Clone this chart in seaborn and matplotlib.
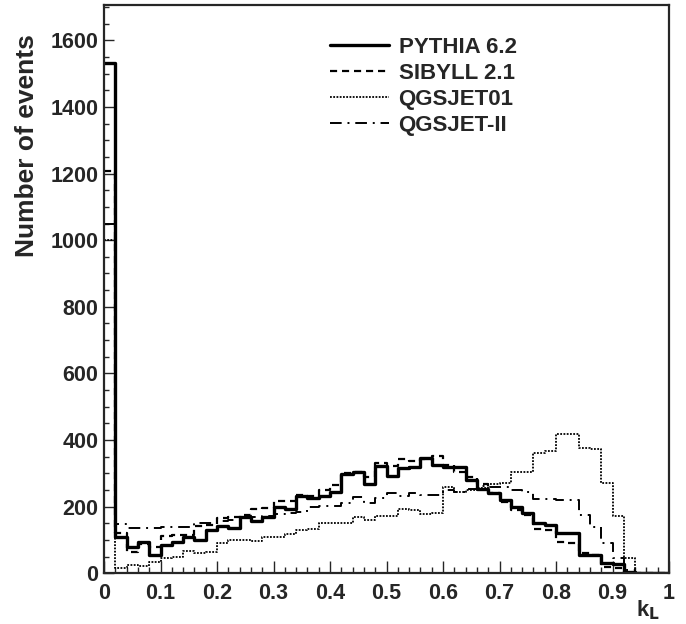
import numpy as np
import pandas as pd
import matplotlib
matplotlib.use("Agg")
import matplotlib.pyplot as plt
from matplotlib.ticker import MultipleLocator, FixedFormatter, FixedLocator
import seaborn as sns

# Histogramas de k_L (50 bins de 0.02 entre 0 e 1)

bordas = np.linspace(0, 1, 51)

pythia = [1532, 110, 80, 95, 55, 85, 95, 108, 100, 130,
          142, 135, 170, 158, 170, 198, 192, 232, 225, 233,
          243, 298, 303, 268, 323, 293, 315, 320, 345, 325,
          320, 318, 280, 252, 242, 220, 200, 181, 150, 144,
          120, 120, 55, 55, 30, 27, 3, 0, 0, 0]

sibyll = [1208, 120, 65, 88, 80, 112, 115, 115, 142, 145,
          165, 170, 175, 192, 195, 218, 218, 235, 232, 250,
          265, 300, 305, 290, 330, 322, 342, 338, 342, 352,
          325, 305, 288, 268, 240, 215, 190, 175, 132, 130,
          95, 92, 60, 55, 20, 15, 0, 0, 0, 0]

qgsjet01 = [1000, 15, 25, 22, 35, 45, 50, 68, 62, 65,
            90, 100, 100, 97, 110, 110, 118, 130, 132, 151,
            150, 150, 170, 161, 171, 171, 194, 190, 177, 180,
            260, 245, 250, 255, 268, 270, 305, 305, 362, 368,
            418, 418, 375, 372, 270, 172, 45, 0, 0, 0]

qgsjet2 = [1050, 147, 135, 135, 137, 138, 140, 140, 150, 150,
           158, 160, 165, 170, 172, 178, 180, 185, 200, 202,
           202, 212, 230, 210, 227, 242, 232, 240, 235, 235,
           250, 245, 252, 262, 260, 260, 250, 245, 222, 222,
           220, 220, 175, 140, 90, 45, 10, 0, 0, 0]

nomes = ['PYTHIA 6.2', 'SIBYLL 2.1', 'QGSJET01', 'QGSJET-II']
xticks_lab = ['0', '0.1', '0.2', '0.3', '0.4', '0.5', '0.6', '0.7', '0.8', '0.9', '1']
yticks_lab = ['0', '200', '400', '600', '800', '1000', '1200', '1400', '1600']

sns.set_style('ticks')
plt.rcParams['font.family'] = ['Liberation Sans', 'DejaVu Sans']

fig = plt.figure(figsize=(6.86, 6.24), dpi=100)
ax = fig.add_axes([104 / 686, 1 - 573.3 / 624, 565 / 686, 568.3 / 624])

centros = (bordas[:-1] + bordas[1:]) / 2
estilos = [
    dict(linestyle='-', linewidth=2.4),
    dict(linestyle=(0, (3.2, 2.2)), linewidth=1.6),
    dict(linestyle=(0, (1, 0.8)), linewidth=1.3),
    dict(linestyle=(0, (6, 3, 1, 3)), linewidth=1.4),
]
for serie, nome, est in zip([pythia, sibyll, qgsjet01, qgsjet2], nomes, estilos):
    df = pd.DataFrame({'kL': centros, 'n': serie})
    sns.histplot(data=df, x='kL', weights='n', binwidth=0.02, binrange=(0, 1),
                 element='step', fill=False, color='black', ax=ax, label=nome, **est)

ax.set_xlim(0, 1)
ax.set_ylim(0, 1706)

ax.xaxis.set_major_locator(FixedLocator(np.linspace(0, 1, 11)))
ax.xaxis.set_major_formatter(FixedFormatter(xticks_lab))
ax.xaxis.set_minor_locator(MultipleLocator(0.02))
ax.yaxis.set_major_locator(FixedLocator(np.arange(0, 1601, 200)))
ax.yaxis.set_major_formatter(FixedFormatter(yticks_lab))
ax.yaxis.set_minor_locator(MultipleLocator(50))

ax.tick_params(which='both', direction='in', top=False, right=False, width=1.0)
ax.tick_params(axis='x', which='major', length=9, labelsize=15.5, pad=7)
ax.tick_params(axis='x', which='minor', length=4.5)
ax.tick_params(axis='y', which='major', length=7.5, labelsize=15.5, pad=4)
ax.tick_params(axis='y', which='minor', length=3.5)
for lab in ax.get_xticklabels() + ax.get_yticklabels():
    lab.set_fontweight('bold')

for s in ax.spines.values():
    s.set_linewidth(1.6)
    s.set_visible(True)

ax.set_ylabel('Number of events', fontsize=19, fontweight='bold')
ax.yaxis.set_label_coords(-0.136, 0.752)
ax.yaxis.label.set_va('center')
ax.set_xlabel('k$_\\mathbf{L}$', fontsize=16, fontweight='bold')
ax.xaxis.set_label_coords(0.963, -0.044)

ax.legend(loc='upper left', bbox_to_anchor=(0.364, 0.979), frameon=False,
          prop={'size': 16, 'weight': 'bold'}, handlelength=2.65,
          handletextpad=0.45, labelspacing=0.23)

fig.savefig('out.png', dpi=100)
